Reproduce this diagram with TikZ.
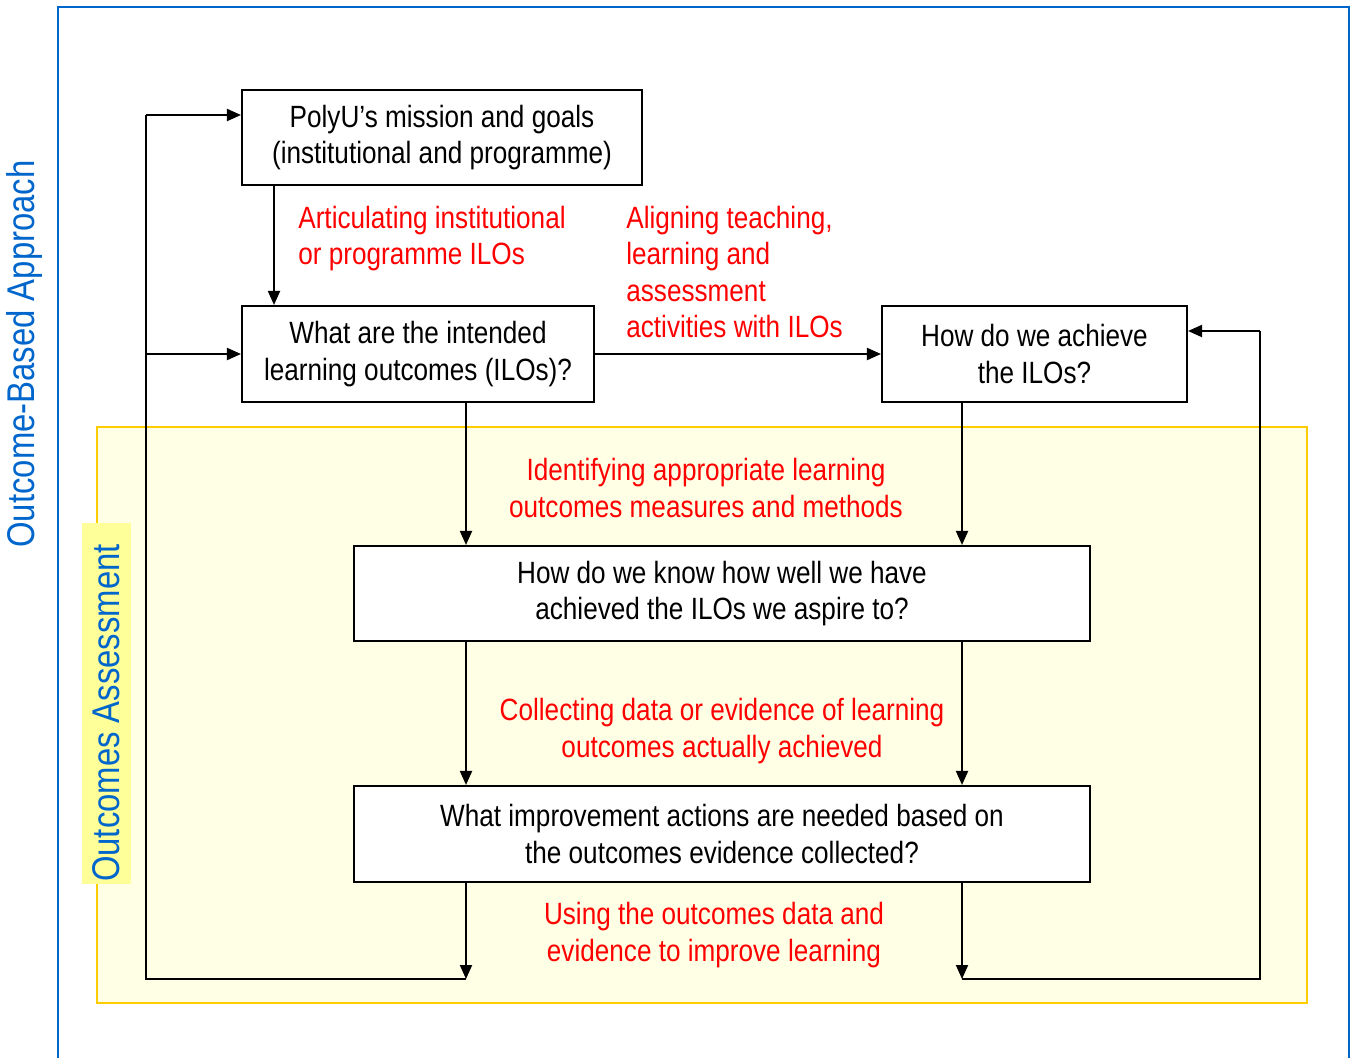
\documentclass[tikz,border=0pt]{standalone}
\usepackage{fontspec}
\setmainfont[FakeStretch=0.85]{Liberation Sans}
\usetikzlibrary{arrows.meta}
\definecolor{oblue}{RGB}{0,102,204}
\definecolor{ored}{RGB}{255,0,0}
\definecolor{gold}{RGB}{255,204,0}
\definecolor{paleyellow}{RGB}{255,255,230}
\definecolor{tagyellow}{RGB}{255,255,153}
\newcommand\qfont{\fontsize{17.5}{20.8}\selectfont}
\newcommand\tagfont{\fontsize{22}{26}\selectfont}
\tikzset{
    qbox/.style={rectangle, draw=black, line width=1.2pt, fill=white, align=center,
        font=\qfont, inner sep=0pt},
    arrow/.style={-{Triangle[length=2.8mm, width=2.4mm]}, line width=1.1pt},
    link/.style={line width=1.1pt},
    redlabel/.style={text=ored, font=\qfont, inner sep=0pt},
    tag/.style={rotate=90, text=oblue, font=\tagfont, inner sep=0pt},
}
\begin{document}
\begin{tikzpicture}[x=0.02cm, y=-0.02cm]
    \useasboundingbox (0,0) rectangle (1354,1057);
    % frames
    \draw[oblue, line width=1.2pt] (58,1060) -- (58,7) -- (1349,7) -- (1349,1060);
    \draw[gold, fill=paleyellow, line width=1.2pt] (97,427) rectangle (1307,1003);
    \node[tag] (oba) at (25,354) {Outcome-Based Approach};
    \fill[tagyellow] (82,523) rectangle (131,884);
    \node[tag] (oa) at (106,713) {Outcomes Assessment};

    % questions
    \node[qbox, minimum width=8cm, minimum height=1.9cm] (mission) at (442,137.5) {PolyU’s mission and goals\\(institutional and programme)};
    \node[qbox, minimum width=7.04cm, minimum height=1.92cm] (ilos) at (418,354) {What are the intended\\learning outcomes (ILOs)?};
    \node[qbox, minimum width=6.1cm, minimum height=1.92cm] (achieve) at (1034.5,354) {How do we achieve\\the ILOs?};
    \node[qbox, minimum width=14.72cm, minimum height=1.9cm] (know) at (722,593.5) {How do we know how well we have\\achieved the ILOs we aspire to?};
    \node[qbox, minimum width=14.72cm, minimum height=1.92cm] (improve) at (722,834) {What improvement actions are needed based on\\the outcomes evidence collected?};

    % red labels
    \node[redlabel, anchor=west, align=left] (articulate) at (298,238.5) {Articulating institutional\\or programme ILOs};
    \node[redlabel, anchor=west, align=left] (aligning) at (626,272) {Aligning teaching,\\learning and\\assessment\\activities with ILOs};
    \node[redlabel, align=center] (identify) at (706,488) {Identifying appropriate learning\\outcomes measures and methods};
    \node[redlabel, align=center] (collect) at (722,731) {Collecting data or evidence of learning\\outcomes actually achieved};
    \node[redlabel, align=center] (using) at (714,935) {Using the outcomes data and\\evidence to improve learning};

    % columns and loop corners
    \coordinate (cx) at (274,0);
    \coordinate (lx) at (466,0);
    \coordinate (rx) at (962,0);
    \coordinate (bl) at (466,979);
    \coordinate (br) at (962,979);
    \coordinate (lb) at (146,979);
    \coordinate (lt) at (146,115);
    \coordinate (rb) at (1260,979);
    \coordinate (rt) at (1260,331);

    % connectors
    \draw[arrow] (mission.south -| cx) -- (ilos.north -| cx);
    \draw[arrow] (ilos.east) -- (achieve.west);
    \draw[arrow] (ilos.south -| lx) -- (know.north -| lx);
    \draw[arrow] (achieve.south -| rx) -- (know.north -| rx);
    \draw[arrow] (know.south -| lx) -- (improve.north -| lx);
    \draw[arrow] (know.south -| rx) -- (improve.north -| rx);
    \draw[arrow] (improve.south -| lx) -- (bl);
    \draw[arrow] (improve.south -| rx) -- (br);
    \draw[link] (bl) -- (lb) -- (lt);
    \draw[arrow] (lt) -- (mission.west |- lt);
    \draw[arrow] (ilos.west -| lb) -- (ilos.west);
    \draw[link] (br) -- (rb) -- (rt);
    \draw[arrow] (rt) -- (achieve.east |- rt);
\end{tikzpicture}
\end{document}
